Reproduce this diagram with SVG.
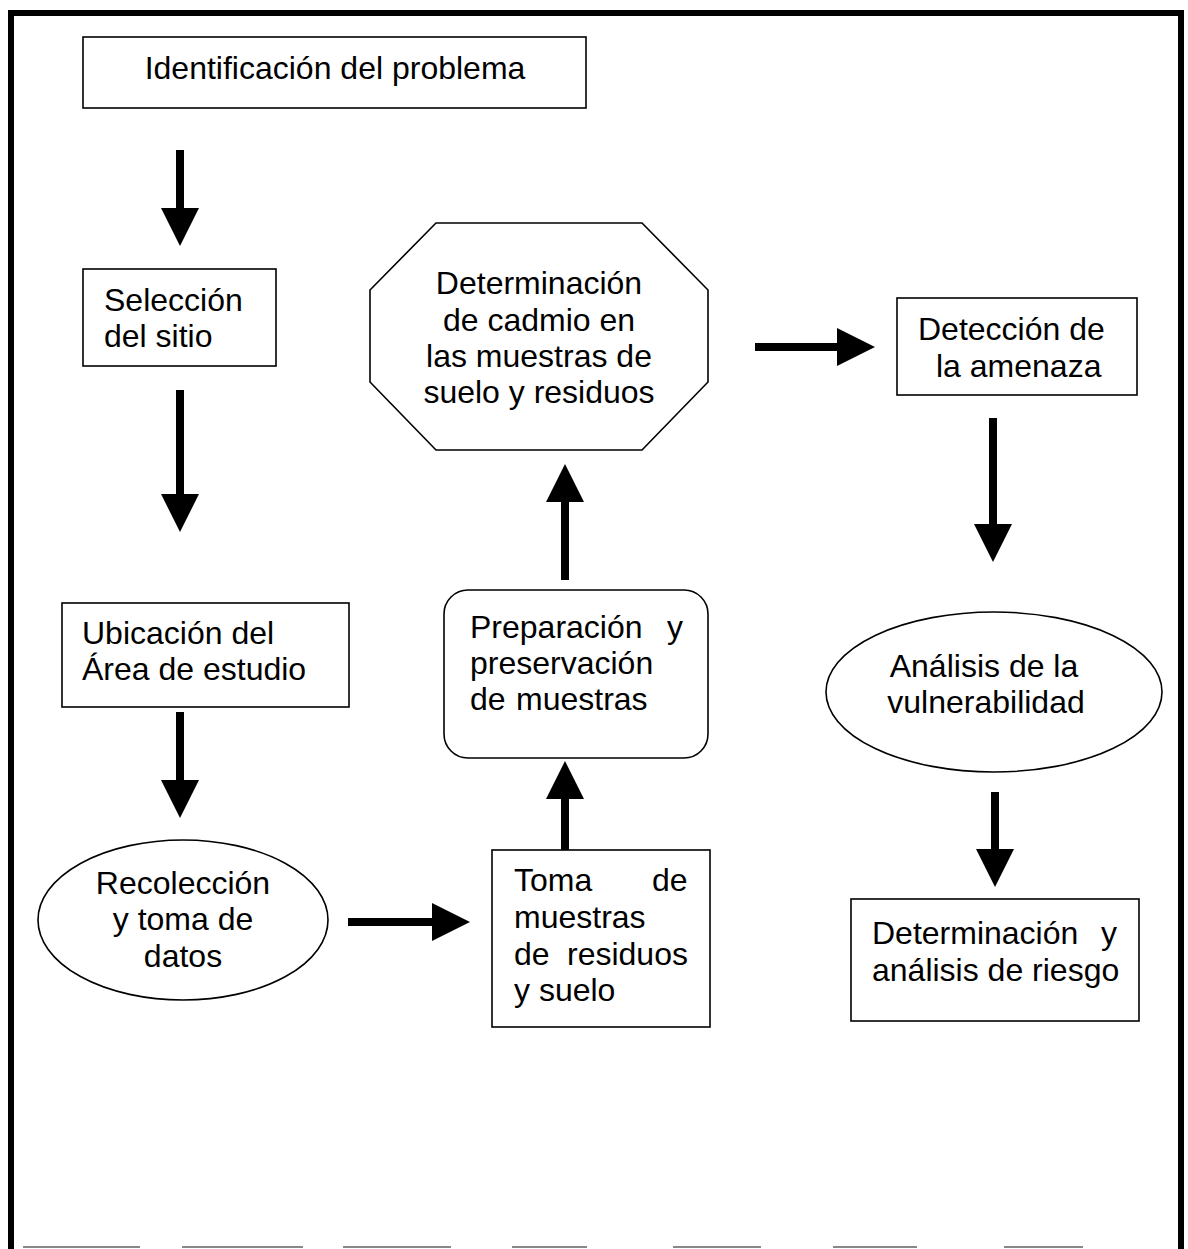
<svg xmlns="http://www.w3.org/2000/svg" width="1188" height="1249" viewBox="0 0 1188 1249">
<style>
.n{fill:#fff;stroke:#000;stroke-width:1.6}
.t{font-family:"Liberation Sans",Arial,sans-serif;font-size:32px;fill:#000}
.c{text-anchor:middle}
.a{stroke:#000;stroke-width:8;fill:none;marker-end:url(#h)}
</style>
<defs>
<marker id="h" markerUnits="userSpaceOnUse" markerWidth="38" markerHeight="38" refX="0" refY="19" orient="auto"><path d="M0,0 L38,19 L0,38 z" fill="#000"/></marker>
</defs>
<rect width="1188" height="1249" fill="#fff"/>
<g id="frame">
<path d="M8,13 H1183 M11,10 V1249 M1181,10 V1249" stroke="#000" stroke-width="6" fill="none"/>
<path d="M23,1247 H140 M182,1247 H303 M343,1247 H451 M512,1247 H587 M673,1247 H761 M833,1247 H917 M1004,1247 H1083" stroke="#888" stroke-width="2" fill="none"/>
</g>
<g id="connectors">
<line class="a" x1="180" y1="150" x2="180" y2="208"/>
<line class="a" x1="180" y1="390" x2="180" y2="494"/>
<line class="a" x1="180" y1="712" x2="180" y2="780"/>
<line class="a" x1="348" y1="922" x2="432" y2="922"/>
<line class="a" x1="565" y1="850" x2="565" y2="799"/>
<line class="a" x1="565" y1="580" x2="565" y2="502"/>
<line class="a" x1="755" y1="347" x2="837" y2="347"/>
<line class="a" x1="993" y1="418" x2="993" y2="524"/>
<line class="a" x1="995" y1="792" x2="995" y2="849"/>
</g>
<g id="n1"><rect class="n" x="83" y="37" width="503" height="71"/>
<text class="t c" x="335" y="79">Identificación del problema</text></g>
<g id="n2"><rect class="n" x="83" y="269" width="193" height="97"/>
<text class="t" x="104" y="311">Selección</text><text class="t" x="104" y="347">del sitio</text></g>
<g id="n3"><rect class="n" x="62" y="603" width="287" height="104"/>
<text class="t" x="82" y="644">Ubicación del</text><text class="t" x="82" y="680">Área de estudio</text></g>
<g id="n4"><ellipse class="n" cx="183" cy="920" rx="145" ry="80"/>
<text class="t c" x="183" y="894">Recolección</text><text class="t c" x="183" y="930">y toma de</text><text class="t c" x="183" y="967">datos</text></g>
<g id="n5"><rect class="n" x="492" y="850" width="218" height="177"/>
<text class="t"><tspan x="514" y="891">Toma</tspan><tspan x="652" y="891">de</tspan></text>
<text class="t" x="514" y="928">muestras</text>
<text class="t"><tspan x="514" y="965">de</tspan><tspan x="567" y="965">residuos</tspan></text>
<text class="t" x="514" y="1001">y suelo</text></g>
<g id="n6"><rect class="n" x="444" y="590" width="264" height="168" rx="24"/>
<text class="t"><tspan x="470" y="638">Preparación</tspan><tspan x="667" y="638">y</tspan></text>
<text class="t" x="470" y="674">preservación</text>
<text class="t"><tspan x="470" y="710">de</tspan><tspan x="516" y="710">muestras</tspan></text></g>
<g id="n7"><polygon class="n" points="436,223 642,223 708,290 708,382 642,450 436,450 370,382 370,290"/>
<text class="t c" x="539" y="294">Determinación</text><text class="t c" x="539" y="331">de cadmio en</text><text class="t c" x="539" y="367">las muestras de</text><text class="t c" x="539" y="403">suelo y residuos</text></g>
<g id="n8"><rect class="n" x="897" y="298" width="240" height="97"/>
<text class="t" x="918" y="340">Detección de</text><text class="t" x="936" y="377">la amenaza</text></g>
<g id="n9"><ellipse class="n" cx="994" cy="692" rx="168" ry="80"/>
<text class="t c" x="984" y="677">Análisis de la</text><text class="t c" x="986" y="713">vulnerabilidad</text></g>
<g id="n10"><rect class="n" x="851" y="899" width="288" height="122"/>
<text class="t"><tspan x="872" y="944">Determinación</tspan><tspan x="1101" y="944">y</tspan></text>
<text class="t" x="872" y="981">análisis de riesgo</text></g>
</svg>
